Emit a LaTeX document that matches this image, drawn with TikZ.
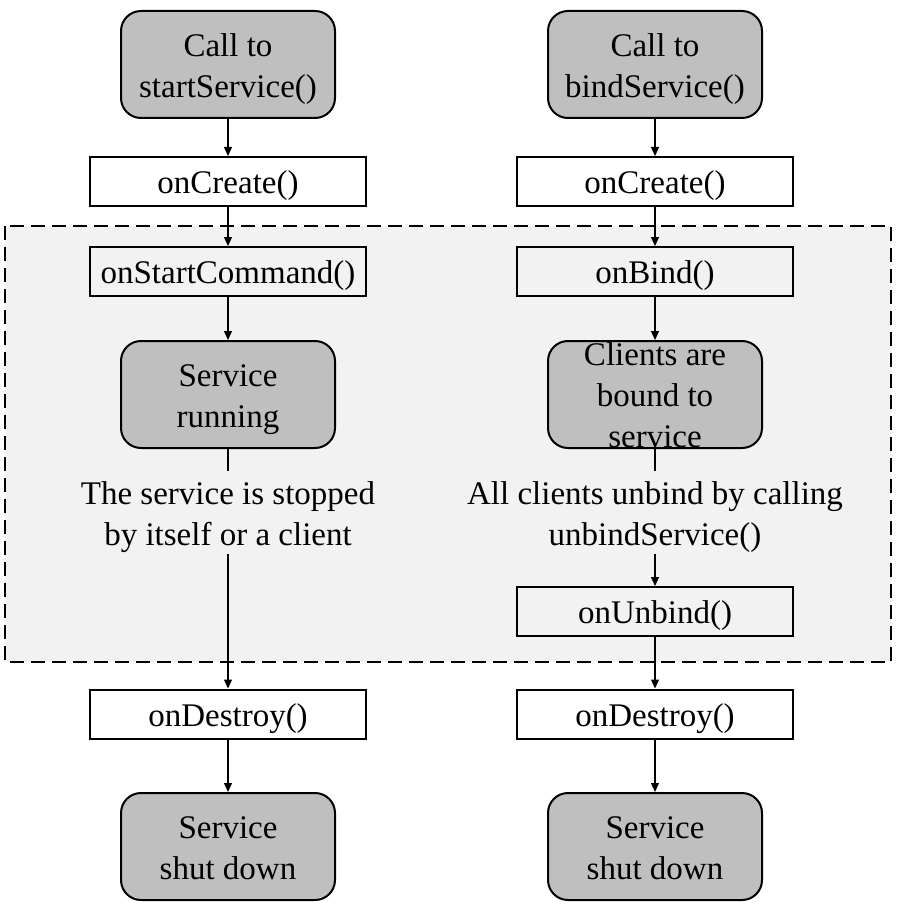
\documentclass[tikz,border=0pt]{standalone}
\usepackage{fontspec}
\setmainfont{Liberation Serif}
\usetikzlibrary{arrows.meta}
\definecolor{boxgray}{HTML}{BFBFBF}
\definecolor{bggray}{HTML}{F2F2F2}
\newcommand\mltext[1]{\raisebox{-4pt}[\height][\depth]{\begin{tabular}{@{}c@{}}#1\end{tabular}}}
\begin{document}
\begin{tikzpicture}[x=1pt,y=-1pt,
  every node/.style={font=\fontsize{33}{41}\selectfont, inner sep=0pt},
  roundbox/.style={draw, line width=2pt, fill=boxgray, rounded corners=20pt, minimum width=214pt, minimum height=107pt},
  rectbox/.style={draw, line width=2pt, fill=white, minimum width=276pt, minimum height=49pt},
  lbl/.style={minimum height=81pt},
  conn/.style={line width=1.3pt},
  arr/.style={conn, -{Triangle[length=9pt,width=8pt]}}
]
\useasboundingbox (0,0) rectangle (898,909);
\draw[line width=2pt, dash pattern=on 14pt off 7pt, fill=bggray] (5,226) rectangle (891,662);

\node[roundbox] (s1) at (228,64.5) {\mltext{Call to\\startService()}};
\node[roundbox] (b1) at (655,64.5) {\mltext{Call to\\bindService()}};
\node[rectbox] (c1) at (228,181.5) {\mltext{onCreate()}};
\node[rectbox] (c2) at (655,181.5) {\mltext{onCreate()}};
\node[rectbox, fill=bggray] (sc) at (228,271.5) {\mltext{onStartCommand()}};
\node[rectbox, fill=bggray] (ob) at (655,271.5) {\mltext{onBind()}};
\node[roundbox] (sr) at (228,394.5) {\mltext{Service\\running}};
\node[roundbox, inner ysep=-8pt] (cb) at (655,394.5) {\mltext{Clients are\\bound to\\service}};
\node[lbl] (l1) at (228,512.5) {\mltext{The service is stopped\\by itself or a client}};
\node[lbl] (l2) at (655,512.5) {\mltext{All clients unbind by calling\\unbindService()}};
\node[rectbox, fill=bggray] (ou) at (655,611.5) {\mltext{onUnbind()}};
\node[rectbox] (d1) at (228,714) {\mltext{onDestroy()}};
\node[rectbox] (d2) at (655,714) {\mltext{onDestroy()}};
\node[roundbox] (e1) at (228,846.5) {\mltext{Service\\shut down}};
\node[roundbox] (e2) at (655,846.5) {\mltext{Service\\shut down}};

\draw[arr] (s1) -- (c1);
\draw[arr] (b1) -- (c2);
\draw[arr] (c1) -- (sc);
\draw[arr] (c2) -- (ob);
\draw[arr] (sc) -- (sr);
\draw[arr] (ob) -- (cb);
\draw[conn] (sr) -- (l1);
\draw[conn] (cb) -- (l2);
\draw[arr] (l1) -- (d1);
\draw[arr] (l2) -- (ou);
\draw[arr] (ou) -- (d2);
\draw[arr] (d1) -- (e1);
\draw[arr] (d2) -- (e2);
\end{tikzpicture}
\end{document}
